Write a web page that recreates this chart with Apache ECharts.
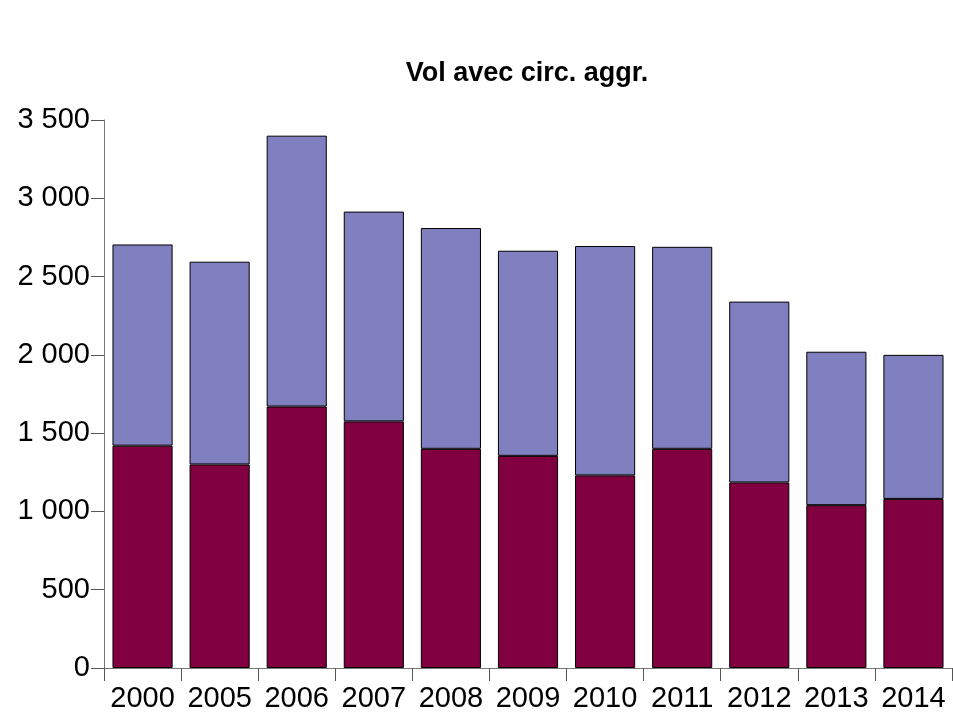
<!DOCTYPE html>
<html>
<head>
<meta charset="utf-8">
<script src="https://cdn.jsdelivr.net/npm/echarts@6/dist/echarts.min.js"></script>
<style>
  html, body { margin: 0; padding: 0; background: #fff; }
  #main { width: 953px; height: 713px; }
</style>
</head>
<body>
<div id="main"></div>
<script>
// années
const years = ['2000', '2005', '2006', '2007', '2008', '2009', '2010', '2011', '2012', '2013', '2014'];
// partie basse (bordeaux)
const lowerValues = [1420, 1300, 1670, 1575, 1400, 1355, 1230, 1400, 1185, 1040, 1080];
// partie haute (bleu), empilée sur la basse
const upperValues = [1285, 1295, 1730, 1340, 1410, 1310, 1465, 1290, 1155, 980, 920];
const yTicks = [0, 500, 1000, 1500, 2000, 2500, 3000, 3500];

const fontFam = '"Liberation Sans", Arial, sans-serif';

function fmt(v) {
  // séparateur de milliers avec espace
  return String(v).replace(/\B(?=(\d{3})+(?!\d))/g, ' ');
}

const chart = echarts.init(document.getElementById('main'));
const option = {
  backgroundColor: '#fff',
  animation: false,
  title: {
    text: 'Vol avec circ. aggr.',
    left: 526,
    textAlign: 'center',
    top: 55,
    textStyle: {
      fontFamily: fontFam,
      fontSize: 27,
      fontWeight: 'bold',
      color: '#000'
    }
  },
  grid: {
    left: 104,
    right: 1,
    top: 120,
    bottom: 44
  },
  xAxis: {
    type: 'category',
    data: years,
    axisLine: { lineStyle: { color: '#777', width: 1 } },
    axisTick: { show: true, length: 13, lineStyle: { color: '#555' } },
    axisLabel: {
      fontFamily: fontFam,
      fontSize: 29,
      color: '#000',
      margin: 16,
      interval: 0
    },
    splitLine: { show: false }
  },
  yAxis: {
    type: 'value',
    min: yTicks[0],
    max: yTicks[yTicks.length - 1],
    interval: 500,
    axisLine: { show: true, lineStyle: { color: '#777', width: 1 } },
    axisTick: { show: true, length: 13, lineStyle: { color: '#555' } },
    axisLabel: {
      fontFamily: fontFam,
      fontSize: 29,
      color: '#000',
      margin: 14,
      formatter: function (v) { return fmt(v); }
    },
    splitLine: { show: false }
  },
  series: [
    {
      name: 'bas',
      type: 'bar',
      stack: 'total',
      data: lowerValues,
      barCategoryGap: '22%',
      itemStyle: { color: '#800040', borderColor: '#000', borderWidth: 1 }
    },
    {
      name: 'haut',
      type: 'bar',
      stack: 'total',
      data: upperValues,
      barCategoryGap: '22%',
      itemStyle: { color: '#8080c0', borderColor: '#000', borderWidth: 1 }
    }
  ]
};
option.title.left = 522;
chart.setOption(option);
</script>
</body>
</html>
